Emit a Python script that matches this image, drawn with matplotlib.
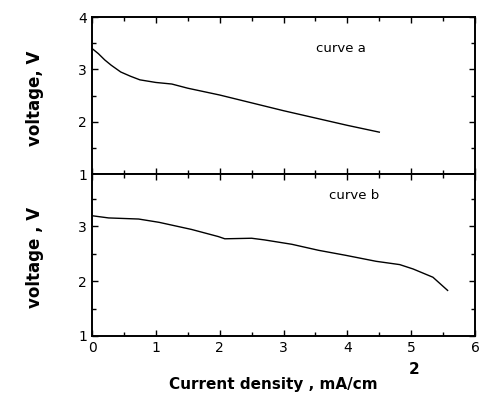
import matplotlib
matplotlib.use("Agg")
import matplotlib.pyplot as plt
from matplotlib.ticker import MultipleLocator

# curve a (top panel)
xa = [0, 0.1, 0.2, 0.3, 0.45, 0.6, 0.75, 1.0, 1.25, 1.5, 2.0, 2.5, 3.0, 3.5, 4.0, 4.5]
ya = [3.40, 3.30, 3.18, 3.08, 2.95, 2.87, 2.80, 2.75, 2.72, 2.64, 2.51, 2.36, 2.21, 2.07, 1.93, 1.80]

# curve b (bottom panel)
xb = [0, 0.26, 0.73, 1.05, 1.56, 1.98, 2.08, 2.5, 2.7, 3.13, 3.55, 3.97, 4.45, 4.82, 5.03, 5.34, 5.57]
yb = [3.19, 3.15, 3.13, 3.07, 2.94, 2.81, 2.77, 2.78, 2.75, 2.67, 2.56, 2.47, 2.36, 2.30, 2.22, 2.07, 1.83]

xticks = [0, 1, 2, 3, 4, 5, 6]

fig = plt.figure(figsize=(4.8, 3.97), dpi=100)
ax1 = fig.add_axes([0.1917, 0.5617, 0.798, 0.3953])
ax2 = fig.add_axes([0.1917, 0.1537, 0.798, 0.408])

ax1.plot(xa, ya, color="black", lw=1.0)
ax2.plot(xb, yb, color="black", lw=1.0)

for ax in (ax1, ax2):
    ax.set_xlim(0, 6)
    ax.xaxis.set_major_locator(MultipleLocator(1))
    ax.xaxis.set_minor_locator(MultipleLocator(0.5))
    ax.yaxis.set_major_locator(MultipleLocator(1))
    ax.yaxis.set_minor_locator(MultipleLocator(0.5))
    ax.tick_params(which="both", direction="in", top=True, right=True,
                   labelsize=10, width=1.0)
    ax.tick_params(which="major", length=4)
    ax.tick_params(which="minor", length=3)
    for s in ax.spines.values():
        s.set_linewidth(1.4)

ax1.set_ylim(1, 4)
ax1.set_yticks([1, 2, 3, 4])
ax1.tick_params(labelbottom=False)
ax2.set_ylim(1, 3.95)
ax2.set_yticks([1, 2, 3])
ax2.set_xticks(xticks)

ax1.text(3.9, 3.4, "curve a", fontsize=9.5, ha="center", va="center")
ax2.text(4.1, 3.55, "curve b", fontsize=9.5, ha="center", va="center")

fig.text(0.072, 0.752, "voltage, V", rotation=90, fontweight="bold",
         fontsize=12, ha="center", va="center")
fig.text(0.072, 0.352, "voltage , V", rotation=90, fontweight="bold",
         fontsize=12, ha="center", va="center")
fig.text(0.57, 0.012, "Current density , mA/cm", fontweight="bold",
         fontsize=11, ha="center", va="bottom")
fig.text(0.862, 0.05, "2", fontweight="bold", fontsize=11, ha="center", va="bottom")

fig.savefig("out.png", dpi=100)
